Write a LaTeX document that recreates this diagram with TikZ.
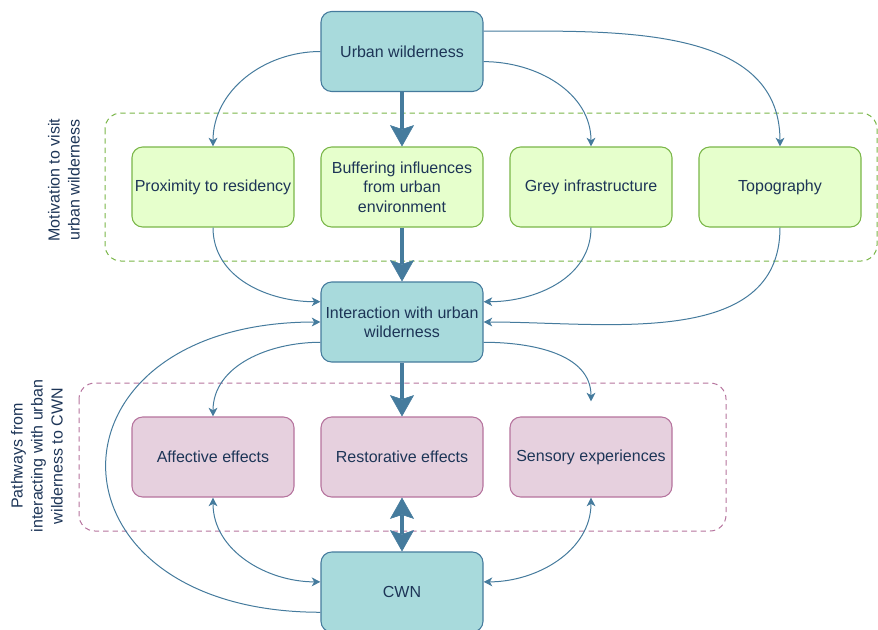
\documentclass[tikz,border=0pt]{standalone}
\usepackage{fontspec}
\setmainfont{Liberation Sans}
\usetikzlibrary{arrows.meta,calc}

\definecolor{tealfill}{HTML}{A8DADC}
\definecolor{tealline}{HTML}{457B9D}
\definecolor{navytext}{HTML}{1D3557}
\definecolor{limefill}{HTML}{E6FFCC}
\definecolor{limeline}{HTML}{7AB648}
\definecolor{rosefill}{HTML}{E6D0DE}
\definecolor{roseline}{HTML}{B5739D}

\tikzset{
    box/.style={rectangle, rounded corners=8pt, draw, line width=0.8pt,
        minimum width=121.5pt, minimum height=60pt, inner xsep=1pt,
        align=center, text=navytext, font=\fontsize{12}{14.5}\selectfont},
    corebox/.style={box, fill=tealfill, draw=tealline},
    motivebox/.style={box, fill=limefill, draw=limeline},
    pathbox/.style={box, fill=rosefill, draw=roseline},
    group/.style={dash pattern=on 4pt off 3pt, rounded corners=12pt, line width=0.75pt},
    grouplabel/.style={rotate=90, align=center, text=navytext, font=\fontsize{12}{15}\selectfont},
    thintip/.tip={Stealth[length=6.5pt, width=6.5pt, inset=1.8pt]},
    bigtip/.tip={Stealth[length=16pt, width=18pt, inset=3pt, line width=0.4pt]},
    link/.style={draw=tealline, line width=0.75pt, -thintip},
    twoway/.style={link, thintip-thintip},
    bigflow/.style={draw=tealline, line width=3.4pt, -bigtip},
    bigtwoway/.style={bigflow, bigtip-bigtip}
}

\begin{document}
\begin{tikzpicture}[x=0.75pt, y=-0.75pt]
        \useasboundingbox (0,0) rectangle (878,629);
        \draw[group, draw=limeline] (105,113) rectangle (877,261);
        \draw[group, draw=roseline] (79,383) rectangle (726,531);
        \node[grouplabel] (motivelabel) at (64,180) {Motivation to visit\\urban wilderness};
        \node[grouplabel] (pathlabel) at (37,456) {Pathways from\\interacting with urban\\wilderness to CWN};

        \node[corebox] (urban) at (402,51.5) {Urban wilderness};
        \node[motivebox] (proximity) at (213,187) {Proximity to residency};
        \node[motivebox] (buffer) at (402,187) {Buffering influences\\from urban\\environment};
        \node[motivebox] (grey) at (591,187) {Grey infrastructure};
        \node[motivebox] (topo) at (780,187) {Topography};
        \node[corebox] (interact) at (402,322) {Interaction with urban\\wilderness};
        \node[pathbox] (affect) at (213,457) {Affective effects};
        \node[pathbox] (restore) at (402,457) {Restorative effects};
        \node[pathbox] (sensory) at (591,457) {Sensory experiences};
        \node[corebox] (cwn) at (402,592) {CWN};
        \coordinate (sensoryin) at ($(sensory.north)+(0,-15)$);

        \draw[link] (urban.west) to[out=180, in=90] (proximity.north);
        \draw[link] ($(urban.north east)!0.25!(urban.south east)$) to[out=0, in=90] (topo.north);
        \draw[link] ($(urban.north east)!0.625!(urban.south east)$) to[out=0, in=90] (grey.north);
        \draw[bigflow] (urban) -- (buffer);

        \draw[link] (proximity.south) to[out=-90, in=180] ($(interact.north west)!0.25!(interact.south west)$);
        \draw[link] (grey.south) to[out=-90, in=0] ($(interact.north east)!0.25!(interact.south east)$);
        \draw[link] (topo.south) to[out=-90, in=0] (interact.east);
        \draw[bigflow] (buffer) -- (interact);

        \draw[link] ($(interact.north west)!0.75!(interact.south west)$) to[out=180, in=90] (affect.north);
        \draw[link] ($(interact.north east)!0.75!(interact.south east)$) to[out=0, in=90] (sensoryin);
        \draw[bigflow] (interact) -- (restore);

        \draw[twoway] (affect.south) to[out=-90, in=180] ($(cwn.north west)!0.375!(cwn.south west)$);
        \draw[twoway] (sensory.south) to[out=-90, in=0] ($(cwn.north east)!0.375!(cwn.south east)$);
        \draw[bigtwoway] (restore) -- (cwn);
        \draw[link] ($(cwn.north west)!0.75!(cwn.south west)$) .. controls (35,612) and (35,322) .. (interact.west);
\end{tikzpicture}
\end{document}
